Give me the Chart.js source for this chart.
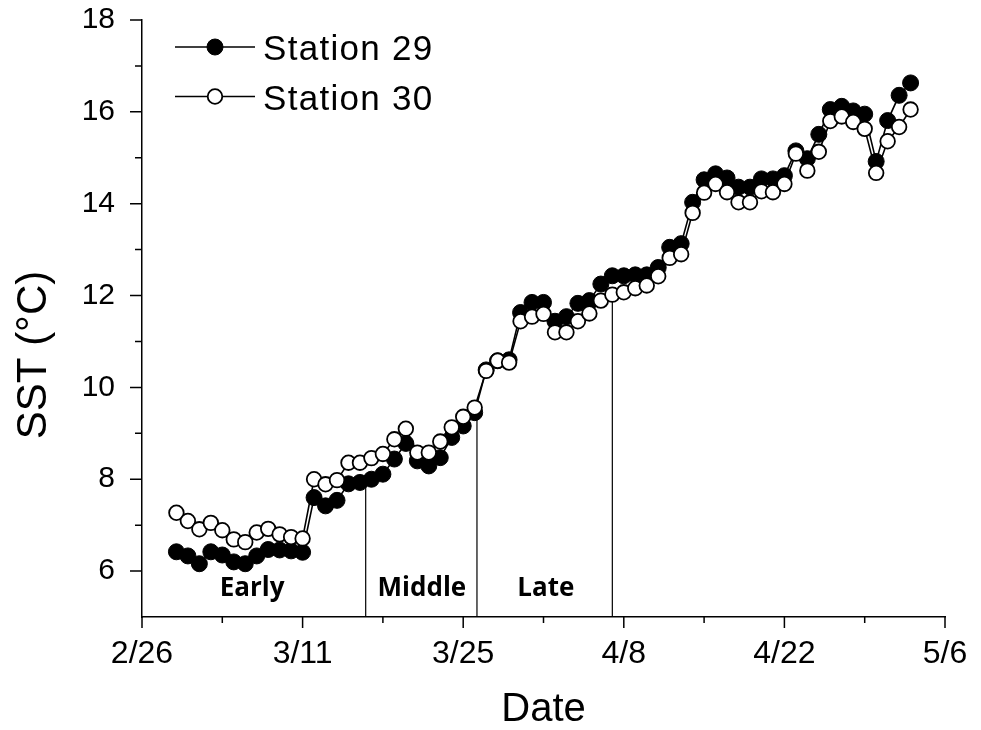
<!DOCTYPE html>
<html>
<head>
<meta charset="utf-8">
<script src="https://cdn.jsdelivr.net/npm/chart.js@4.4.1/dist/chart.umd.min.js"></script>
<style>
  html, body { margin: 0; padding: 0; background: #fff; }
  #wrap { width: 981px; height: 730px; }
</style>
</head>
<body>
<div id="wrap"><canvas id="sstChart"></canvas></div>
<script>
// x values are days counted from 2/26
const days = [3, 4, 5, 6, 7, 8, 9, 10, 11, 12, 13, 14, 15, 16, 17, 18, 19, 20, 21, 22,
              23, 24, 25, 26, 27, 28, 29, 30, 31, 32, 33, 34, 35, 36, 37, 38, 39, 40, 41, 42,
              43, 44, 45, 46, 47, 48, 49, 50, 51, 52, 53, 54, 55, 56, 57, 58, 59, 60, 61, 62,
              63, 64, 65, 66, 67];

const station29 = [6.42, 6.33, 6.16, 6.42, 6.35, 6.20, 6.16, 6.33, 6.47, 6.46, 6.44, 6.41,
                   7.60, 7.42, 7.54, 7.90, 7.93, 8.00, 8.11, 8.44, 8.78, 8.40, 8.29, 8.47,
                   8.91, 9.16, 9.45, 10.38, 10.58, 10.60, 11.63, 11.85, 11.85, 11.44, 11.54, 11.83,
                   11.89, 12.25, 12.43, 12.43, 12.45, 12.45, 12.61, 13.05, 13.13, 14.03, 14.52, 14.65,
                   14.56, 14.36, 14.36, 14.54, 14.54, 14.61, 15.15, 14.98, 15.51, 16.05, 16.12, 16.02,
                   15.95, 14.92, 15.81, 16.36, 16.63];

const station30 = [7.27, 7.09, 6.91, 7.05, 6.89, 6.69, 6.63, 6.84, 6.92, 6.80, 6.74, 6.71,
                   8.00, 7.89, 7.98, 8.36, 8.36, 8.46, 8.55, 8.87, 9.10, 8.58, 8.58, 8.82,
                   9.13, 9.36, 9.56, 10.36, 10.58, 10.54, 11.44, 11.54, 11.60, 11.20, 11.20, 11.44,
                   11.61, 11.89, 12.02, 12.07, 12.16, 12.22, 12.42, 12.82, 12.90, 13.80, 14.24, 14.43,
                   14.25, 14.03, 14.03, 14.27, 14.25, 14.43, 15.09, 14.72, 15.13, 15.80, 15.90, 15.78,
                   15.63, 14.67, 15.36, 15.67, 16.05];

const dateTicks = ['2/26', '3/11', '3/25', '4/8', '4/22', '5/6'];

// period dividers and labels
const periodNames = ['Early', 'Middle', 'Late'];
const periodCentres = [9.6, 24.4, 35.2];
const periodLabelY = 5.61;
const dividerDays = [19.5, 29.2, 41];
const dividerTops = [7.9, 9.4, 12.0];

const FONT = '"Liberation Sans", Arial, sans-serif';
Chart.defaults.font.family = FONT;
Chart.defaults.color = '#000';

function points(values) {
    return days.map((d, i) => ({ x: d, y: values[i] }));
}

const datasets = [{
    label: 'Station 29',
    data: points(station29),
    borderColor: '#000',
    borderWidth: 1.6,
    pointRadius: 8,
    pointBackgroundColor: '#000',
    pointBorderColor: '#000',
    pointBorderWidth: 1,
    order: 2
}, {
    label: 'Station 30',
    data: points(station30),
    borderColor: '#000',
    borderWidth: 1.6,
    pointRadius: 7.3,
    pointBackgroundColor: '#fff',
    pointBorderColor: '#000',
    pointBorderWidth: 1.8,
    order: 1
}];

dividerDays.forEach((d, i) => {
    datasets.push({
        label: 'divider',
        data: [{ x: d, y: 5 }, { x: d, y: dividerTops[i] }],
        borderColor: '#000',
        borderWidth: 1.2,
        pointRadius: 0,
        order: 3
    });
});

const decorations = {
    id: 'decorations',
    afterDraw(chart) {
        const ctx = chart.ctx;
        const xs = chart.scales.x, ys = chart.scales.y;
        ctx.save();

        // tick marks, long for labelled ones
        ctx.strokeStyle = '#000';
        ctx.lineWidth = 1.5;
        ctx.beginPath();
        xs.ticks.forEach(t => {
            const px = xs.getPixelForValue(t.value);
            const len = t.value % 14 === 0 ? 11 : 6;
            ctx.moveTo(px, xs.top);
            ctx.lineTo(px, xs.top + len);
        });
        ys.ticks.forEach(t => {
            if (t.value === 5) return;
            const py = ys.getPixelForValue(t.value);
            const len = t.value % 2 === 0 ? 12 : 7;
            ctx.moveTo(ys.right, py);
            ctx.lineTo(ys.right - len, py);
        });
        ctx.stroke();

        // period labels
        ctx.font = 'bold 26px "Open Sans", "Noto Sans", sans-serif';
        ctx.textAlign = 'center';
        ctx.textBaseline = 'middle';
        ctx.fillStyle = '#000';
        periodNames.forEach((name, i) => {
            ctx.fillText(name, xs.getPixelForValue(periodCentres[i]), ys.getPixelForValue(periodLabelY));
        });

        // y axis title
        ctx.save();
        ctx.translate(34, 355);
        ctx.rotate(-Math.PI / 2);
        ctx.font = '42px ' + FONT;
        ctx.fillText('SST (°C)', 0, 0);
        ctx.restore();

        // legend
        const rows = [{ y: 47, ds: datasets[0] }, { y: 96.5, ds: datasets[1] }];
        rows.forEach(r => {
            ctx.beginPath();
            ctx.lineWidth = 1.6;
            ctx.moveTo(175, r.y);
            ctx.lineTo(255, r.y);
            ctx.stroke();
            ctx.beginPath();
            ctx.arc(215, r.y, r.ds.pointRadius, 0, Math.PI * 2);
            ctx.fillStyle = r.ds.pointBackgroundColor;
            ctx.fill();
            ctx.lineWidth = r.ds.pointBorderWidth;
            ctx.stroke();
            ctx.fillStyle = '#000';
            ctx.font = '35px ' + FONT;
            ctx.letterSpacing = '1.3px';
            ctx.textAlign = 'left';
            ctx.textBaseline = 'alphabetic';
            ctx.fillText(r.ds.label, 263, r.y + 13);
            ctx.letterSpacing = '0px';
        });

        ctx.restore();
    }
};

new Chart(document.getElementById('sstChart'), {
    type: 'line',
    data: { datasets: datasets },
    options: {
        responsive: true,
        maintainAspectRatio: false,
        animation: false,
        layout: { padding: { left: 0, right: 36, top: 20, bottom: 0 } },
        plugins: { legend: { display: false }, tooltip: { enabled: false } },
        scales: {
            x: {
                type: 'linear',
                min: 0,
                max: 70,
                afterFit(scale) { scale.height = 113; },
                // tick marks are drawn by the plugin; tickLength only spaces the labels
                grid: { display: false, drawTicks: true, tickLength: 18 },
                border: { color: '#000', width: 1.5 },
                ticks: {
                    stepSize: 7,
                    autoSkip: false,
                    maxRotation: 0,
                    padding: 0,
                    font: { size: 32 },
                    callback: v => v % 14 === 0 ? dateTicks[v / 14] : ''
                },
                title: {
                    display: true,
                    text: 'Date',
                    font: { size: 40, lineHeight: 1 },
                    padding: { top: 0, bottom: 0 }
                }
            },
            y: {
                min: 5,
                max: 18,
                afterFit(scale) { scale.width = 142; },
                grid: { display: false, drawTicks: true, tickLength: 27 },
                border: { color: '#000', width: 1.5 },
                ticks: {
                    stepSize: 1,
                    autoSkip: false,
                    padding: 0,
                    font: { size: 30 },
                    callback: v => v % 2 === 0 ? v : ''
                }
            }
        }
    },
    plugins: [decorations]
});
</script>
</body>
</html>
